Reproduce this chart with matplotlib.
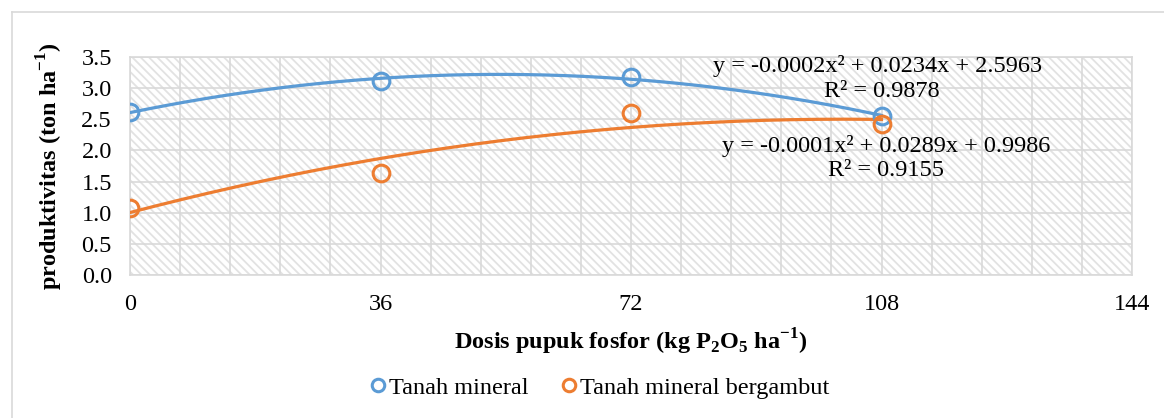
import numpy as np
import matplotlib
matplotlib.use("Agg")
import matplotlib.pyplot as plt
from matplotlib.patches import Rectangle
from matplotlib.lines import Line2D
from matplotlib.ticker import MultipleLocator, FormatStrFormatter

plt.rcParams['font.family'] = ['Liberation Serif', 'DejaVu Serif']
plt.rcParams['mathtext.fontset'] = 'custom'
plt.rcParams['mathtext.rm'] = 'Liberation Serif'
plt.rcParams['mathtext.bf'] = 'Liberation Serif:bold'
plt.rcParams['hatch.linewidth'] = 1.3

# data
dosis = [0, 36, 72, 108]
mineral = [2.62, 3.12, 3.18, 2.55]
bergambut = [1.08, 1.64, 2.60, 2.42]
labels = ['Tanah mineral', 'Tanah mineral bergambut']
eq_mineral = ['y = -0.0002x\u00b2 + 0.0234x + 2.5963', 'R\u00b2 = 0.9878']
eq_bergambut = ['y = -0.0001x\u00b2 + 0.0289x + 0.9986', 'R\u00b2 = 0.9155']

blue = '#5b9bd5'
orange = '#ed7d31'
grid = '#d9d9d9'
fs = 17.5

fig = plt.figure(figsize=(11.64, 4.18), dpi=100)
ax = fig.add_axes([130 / 1164, 1 - 275 / 418, 1002 / 1164, 218 / 418])

# hatched plot area
ax.add_patch(Rectangle((0, 0), 1, 1, transform=ax.transAxes, facecolor='white',
                       edgecolor='#e2e2e2', hatch='\\\\\\\\', linewidth=0, zorder=0))

xs = np.linspace(0, 108, 200)
for ys, col, lab in [(mineral, blue, labels[0]), (bergambut, orange, labels[1])]:
    coef = np.polyfit(dosis, ys, 2)
    ax.plot(xs, np.polyval(coef, xs), color=col, lw=2.3, zorder=3)
    ax.plot(dosis, ys, 'o', ms=12, mfc='none', mec=col, mew=2.2, zorder=4, label=lab)

ax.set_xlim(0, 144)
ax.set_ylim(0, 3.5)
ax.xaxis.set_major_locator(MultipleLocator(36))
ax.xaxis.set_minor_locator(MultipleLocator(7.2))
ax.yaxis.set_major_locator(MultipleLocator(0.5))
ax.yaxis.set_major_formatter(FormatStrFormatter('%.1f'))
ax.grid(which='both', color=grid, lw=1.2, zorder=1)
ax.set_axisbelow(True)
ax.tick_params(which='both', length=0, labelsize=fs)
ax.tick_params(axis='x', pad=14)
ax.tick_params(axis='y', pad=13)
for s in ax.spines.values():
    s.set_color(grid)
    s.set_linewidth(1.2)

ax.set_xlabel('Dosis pupuk fosfor (kg P$_\\mathbf{2}$O$_\\mathbf{5}$ ha$^\\mathbf{-1}$)',
              fontsize=fs, fontweight='bold', labelpad=8)
ax.set_ylabel('produktivitas (ton ha$^\\mathbf{-1}$)', fontsize=fs, fontweight='bold', labelpad=12)

ax.text(107.4, 3.35, eq_mineral[0], ha='center', va='center', fontsize=fs, zorder=5)
ax.text(108.0, 2.95, eq_mineral[1], ha='center', va='center', fontsize=fs, zorder=5)
ax.text(108.7, 2.07, eq_bergambut[0], ha='center', va='center', fontsize=fs, zorder=5)
ax.text(108.6, 1.67, eq_bergambut[1], ha='center', va='center', fontsize=fs, zorder=5)

fig.legend(loc='center', bbox_to_anchor=(598 / 1164, 1 - 388 / 418), ncol=2, frameon=False,
           fontsize=fs, handletextpad=0.0, columnspacing=1.2, markerscale=0.75, handlelength=0.9)

# chart area border
fig.add_artist(Line2D([12 / 1164, 12 / 1164], [0, 1 - 12 / 418], transform=fig.transFigure, color=grid, lw=1.2))
fig.add_artist(Line2D([12 / 1164, 1], [1 - 12 / 418, 1 - 12 / 418], transform=fig.transFigure, color=grid, lw=1.2))

fig.savefig('out.png', dpi=100)
